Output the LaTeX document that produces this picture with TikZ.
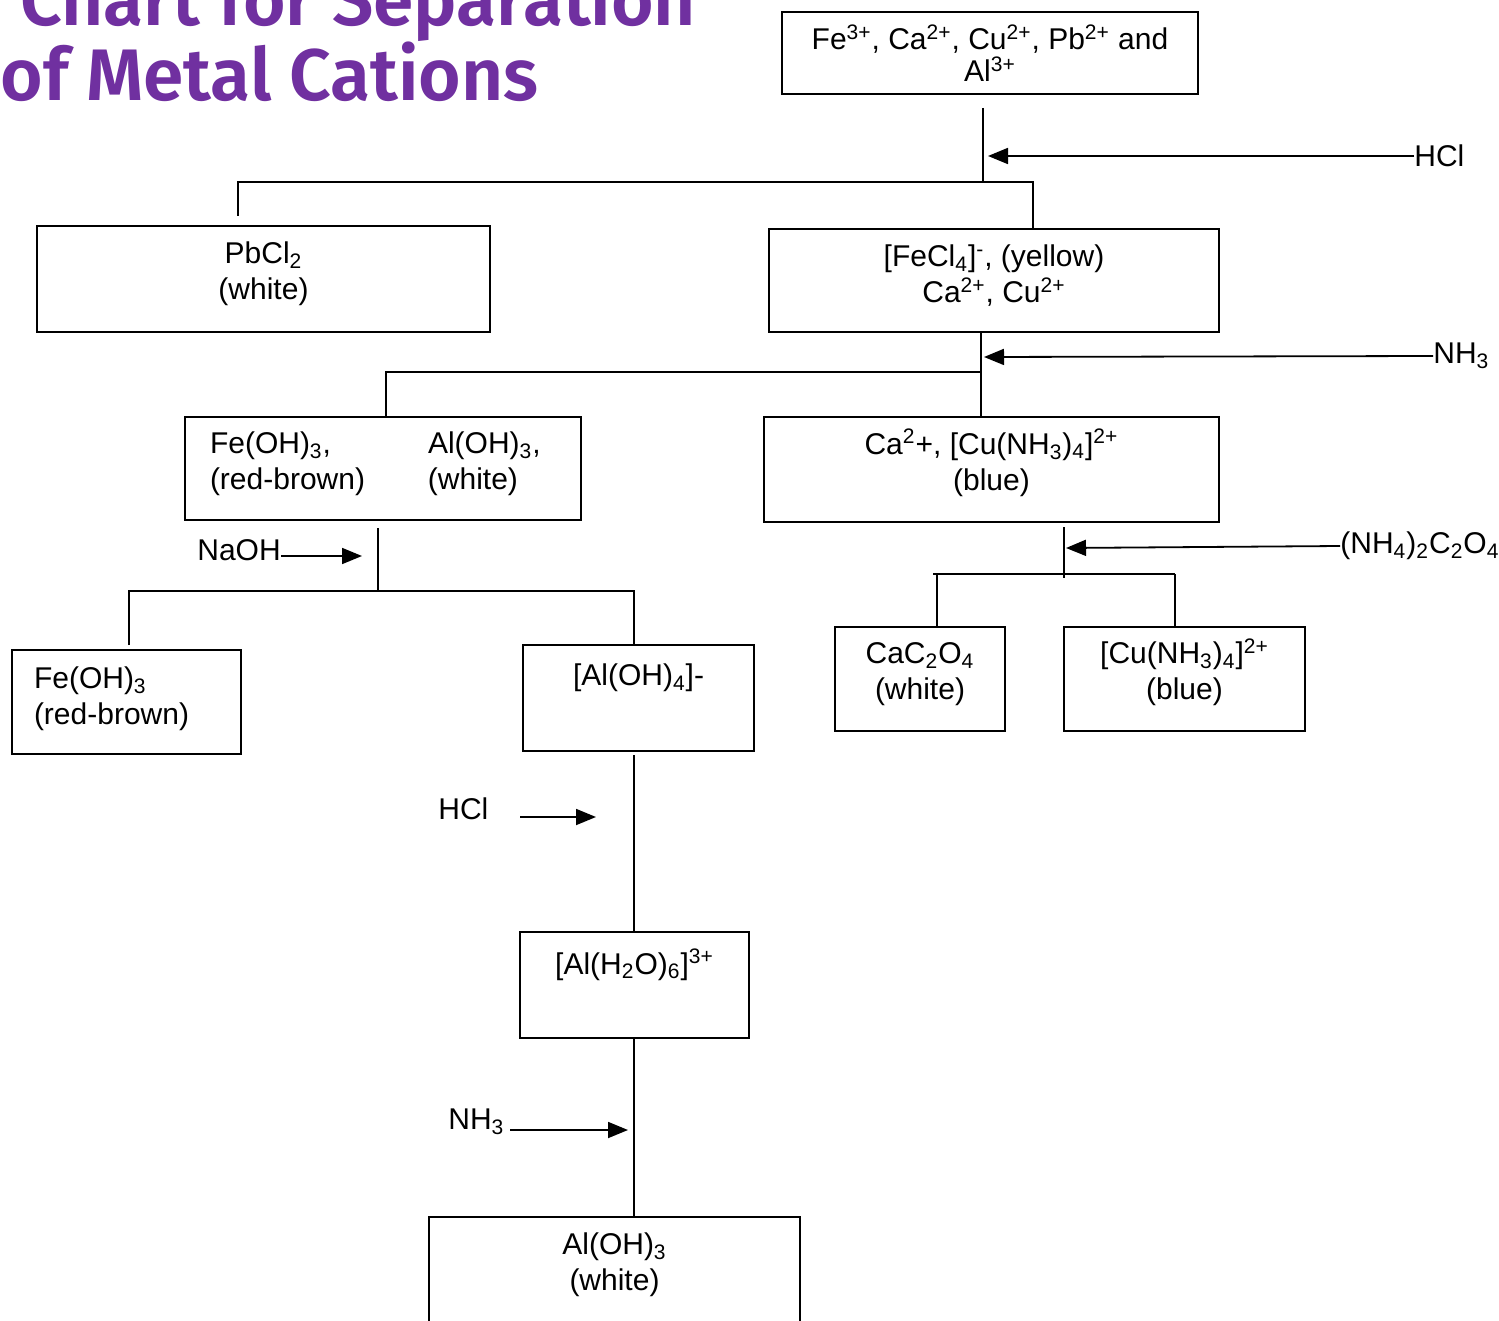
\documentclass[tikz,border=0pt]{standalone}
\usepackage{fontspec}
\setmainfont{Liberation Sans}
\newfontfamily\titlefont{Fira Sans SemiBold}
\usetikzlibrary{arrows.meta}
\newcommand{\chsb}[1]{\textsubscript{#1}}
\newcommand{\chsp}[1]{\textsuperscript{#1}}
\begin{document}
\begin{tikzpicture}[x=0.5pt,y=-0.5pt,
  box/.style={draw=black,line width=1.1pt,inner sep=0pt,align=center,
    font=\fontsize{15pt}{18pt}\selectfont},
  twoline/.style={text height=24pt},
  lbl/.style={inner sep=0pt,anchor=west,font=\fontsize{15pt}{18pt}\selectfont},
  link/.style={draw=black,line width=0.9pt},
  arr/.style={link,-{Triangle[length=10pt,width=8pt]}}]
\definecolor{titleColor}{RGB}{112,48,160}
\path[use as bounding box,fill=white] (0,0) rectangle (1499,1321);

\node[text=titleColor,anchor=base west,inner sep=0pt,font=\titlefont\fontsize{36.5pt}{40pt}\selectfont] (title1) at (20,26) {Chart for Separation};
\node[text=titleColor,anchor=base west,inner sep=0pt,font=\titlefont\fontsize{36.5pt}{40pt}\selectfont] (title2) at (0,101) {of Metal Cations};

\node[box,minimum width=208pt,minimum height=41pt] (mix) at (990,53) {Fe\chsp{3+}, Ca\chsp{2+}, Cu\chsp{2+}, Pb\chsp{2+} and\\[-2pt]Al\chsp{3+}};
\node[box,twoline,minimum width=226.5pt,minimum height=53pt] (pbcl) at (263.5,279) {PbCl\chsb{2}\\(white)};
\node[box,twoline,minimum width=225pt,minimum height=51.5pt] (fecl) at (994,280.5) {[FeCl\chsb{4}]\chsp{-}, (yellow)\\Ca\chsp{2+}, Cu\chsp{2+}};
\node[box,minimum height=51.5pt,align=left,text width=173pt,inner xsep=12.5pt,text height=6pt] (hydr) at (383,468.5)
  {\makebox[109pt][l]{Fe(OH)\chsb{3},}Al(OH)\chsb{3},\\\makebox[109pt][l]{(red-brown)}(white)};
\node[box,twoline,minimum width=227.5pt,minimum height=52.5pt] (cuam) at (991.5,469.5) {Ca\chsp{2}+, [Cu(NH\chsb{3})\chsb{4}]\chsp{2+}\\(blue)};
\node[box,twoline,minimum width=85pt,minimum height=52pt] (cox) at (920,679) {CaC\chsb{2}O\chsb{4}\\(white)};
\node[box,twoline,minimum width=120.5pt,minimum height=52pt] (cub) at (1184.5,679) {[Cu(NH\chsb{3})\chsb{4}]\chsp{2+}\\(blue)};
\node[box,minimum height=52pt,align=left,text width=92.5pt,inner xsep=11pt,text height=8pt] (feoh) at (126.5,702) {Fe(OH)\chsb{3}\\(red-brown)};
\node[box,minimum width=115.5pt,minimum height=53pt] (aloh) at (638.5,698) {[Al(OH)\chsb{4}]-\\\strut};
\node[box,minimum width=114.5pt,minimum height=53pt] (alaq) at (634.5,985) {[Al(H\chsb{2}O)\chsb{6}]\chsp{3+}\\\strut};
\node[box,twoline,minimum width=185.5pt,minimum height=53pt] (alppt) at (614.5,1270) {Al(OH)\chsb{3}\\(white)};

\node[lbl] (hcl1) at (1414,156) {HCl};
\node[lbl] (nh1) at (1433,356) {NH\chsb{3}};
\node[lbl] (oxal) at (1340,546) {(NH\chsb{4})\chsb{2}C\chsb{2}O\chsb{4}};
\node[lbl] (naoh) at (197,550) {NaOH};
\node[lbl] (hcl2) at (438,809) {HCl};
\node[lbl] (nh2) at (448,1122) {NH\chsb{3}};

\coordinate (t1) at (983,108);
\coordinate (j1) at (983,182);
\coordinate (l1) at (238,216);
\coordinate (r1) at (1033,182);
\draw[link] (t1) -- (j1);
\draw[link] (l1) |- (r1) -- (r1 |- fecl.north);
\draw[arr] (hcl1.west) -- (988,156);

\coordinate (t2) at (981,332);
\coordinate (j2) at (981,372);
\draw[link] (t2) -- (t2 |- cuam.north);
\draw[link] (j2) -| (386,417);
\draw[arr] (nh1.west) -- (984,357);

\coordinate (t3) at (378,528);
\coordinate (j3) at (378,591);
\coordinate (l3) at (129,645);
\coordinate (r3) at (634,591);
\draw[link] (t3) -- (j3);
\draw[link] (l3) |- (r3) -- (r3 |- aloh.north);
\draw[arr] ([yshift=-3pt]naoh.east) -- (362,556);

\coordinate (t4) at (1064,527);
\coordinate (j4) at (1064,578);
\coordinate (l4) at (937,574);
\coordinate (r4) at (1175,574);
\draw[link] (t4) -- (j4);
\draw[link] (933,574) -- (r4);
\draw[link] (l4) -- (l4 |- cox.north);
\draw[link] (r4) -- (r4 |- cub.north);
\draw[arr] (oxal.west) -- (1066,548);

\coordinate (t5) at (634,755);
\coordinate (h2s) at (520,817);
\coordinate (h2e) at (596,817);
\draw[link] (t5) -- (t5 |- alaq.north);
\draw[arr] (h2s) -- (h2e);

\coordinate (t6) at (634,1038);
\coordinate (n2s) at (510,1130);
\coordinate (n2e) at (628,1130);
\draw[link] (t6) -- (t6 |- alppt.north);
\draw[arr] (n2s) -- (n2e);
\end{tikzpicture}
\end{document}
